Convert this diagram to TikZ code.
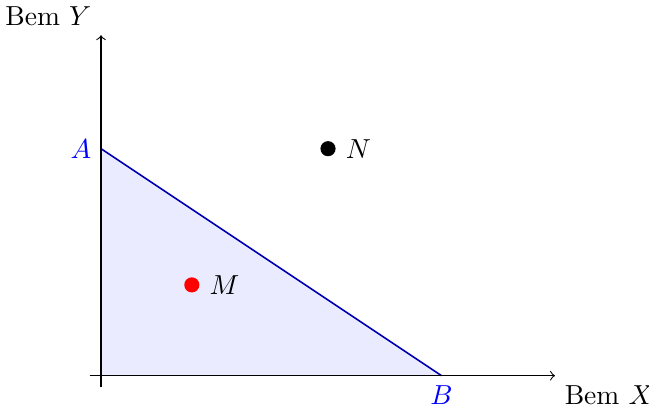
\documentclass[tikz,border=0pt]{standalone}
\usetikzlibrary{positioning}
\begin{document}
\begin{tikzpicture}[x=0.58cm,y=0.58cm,
  axis/.style={->, line width=0.4pt},
  lbl/.style={text=blue},
  dot/.style={circle, inner sep=0pt, minimum size=5.5pt}]
\useasboundingbox (-2.225,-0.69) rectangle (12.07,8.275);
\coordinate (O) at (0,0);
\coordinate (A) at (0,5);
\coordinate (B) at (7.5,0);
\fill[blue!8] (O) -- (A) -- (B) -- cycle;
\draw[blue!70!black, line width=0.6pt] (A) -- (B);
\coordinate (xs) at (-0.25,0);
\coordinate (xe) at (10,0);
\coordinate (ys) at (0,-0.25);
\coordinate (ye) at (0,7.5);
\draw[axis] (xs) -- (xe);
\draw[axis] (ys) -- (ye);
\node[above left] (ly) at (ye) {Bem $Y$};
\node[below right] (lx) at (xe) {Bem $X$};
\node[lbl, left=0pt of A] (la) {$A$};
\node[lbl, below=0pt of B] (lb) {$B$};
\node[dot, fill=red] (M) at (2,2) {};
\node[dot, fill=black] (N) at (5,5) {};
\node[right=0pt of M] (lm) {$M$};
\node[right=0pt of N] (ln) {$N$};
\end{tikzpicture}
\end{document}
